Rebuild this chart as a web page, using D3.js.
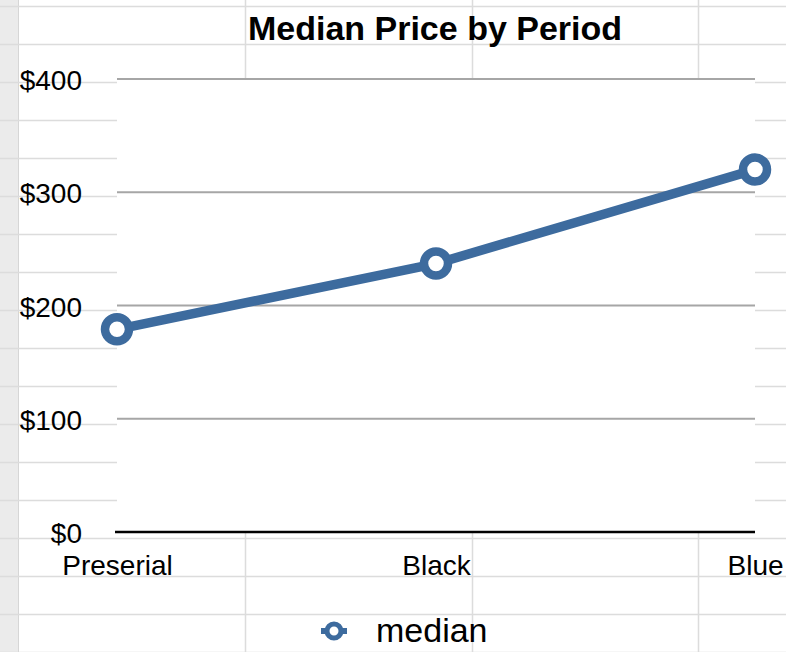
<!DOCTYPE html>
<html>
<head>
<meta charset="utf-8">
<script src="https://cdn.jsdelivr.net/npm/d3@7"></script>
<style>
  body { margin: 0; background: #fff; }
  svg { display: block; font-family: "Liberation Sans", Arial, sans-serif; }
</style>
</head>
<body>
<div id="chart"></div>
<script>
// data
var periods = ['Preserial', 'Black', 'Blue'];
var medianPrice = [179, 237, 320];
var yTicks = [0, 100, 200, 300, 400];
var seriesName = 'median';
var chartTitle = 'Median Price by Period';

var width = 786, height = 652;
var lineColor = '#3d6b9e';
var fontFam = '"Liberation Sans", Arial, sans-serif';

var svg = d3.select('#chart').append('svg')
    .attr('width', width)
    .attr('height', height);

// spreadsheet cells behind the chart
var sheet = svg.append('g').attr('class', 'sheet');
sheet.append('rect')
    .attr('x', 0).attr('y', 0)
    .attr('width', 18).attr('height', height)
    .attr('fill', '#ebebeb');
sheet.append('line')
    .attr('x1', 18.5).attr('x2', 18.5).attr('y1', 0).attr('y2', height)
    .attr('stroke', '#d6d6d6');
sheet.selectAll('line.row')
    .data(d3.range(6, height + 1, 38))
    .enter().append('line')
    .attr('class', 'row')
    .attr('x1', 0).attr('x2', width)
    .attr('y1', function(d){ return d + 0.5; })
    .attr('y2', function(d){ return d + 0.5; })
    .attr('stroke', '#dcdcdc').attr('stroke-width', 1.5);
sheet.selectAll('line.col')
    .data([245, 472, 698])
    .enter().append('line')
    .attr('class', 'col')
    .attr('x1', function(d){ return d + 0.5; })
    .attr('x2', function(d){ return d + 0.5; })
    .attr('y1', 0).attr('y2', height)
    .attr('stroke', '#dcdcdc').attr('stroke-width', 1.5);

// scales
var x = d3.scalePoint().domain(periods).range([117, 755]);
var y = d3.scaleLinear().domain([0, 400]).range([532, 79]);

// plot background
svg.append('rect')
    .attr('x', x.range()[0]).attr('y', y(400))
    .attr('width', x.range()[1] - x.range()[0])
    .attr('height', y(0) - y(400))
    .attr('fill', '#fff');

// gridlines
svg.append('g')
    .selectAll('line')
    .data(yTicks.filter(function(d){ return d > 0; }))
    .enter().append('line')
    .attr('x1', x.range()[0]).attr('x2', x.range()[1])
    .attr('y1', function(d){ return y(d); })
    .attr('y2', function(d){ return y(d); })
    .attr('stroke', '#a6a6a6').attr('stroke-width', 2);

// y axis labels
var yAxis = d3.axisLeft(y).tickValues(yTicks).tickSize(0)
    .tickFormat(function(d){ return '$' + d; });
var gy = svg.append('g')
    .attr('transform', 'translate(82,0)')
    .call(yAxis);
gy.select('.domain').remove();
gy.selectAll('text')
    .attr('x', 0)
    .attr('dy', '0.38em')
    .attr('fill', '#000')
    .style('font-size', '28px')
    .style('font-family', fontFam);

// baseline
svg.append('line')
    .attr('x1', 115).attr('x2', x.range()[1])
    .attr('y1', y(0)).attr('y2', y(0))
    .attr('stroke', '#000').attr('stroke-width', 2.5);

// x axis labels
var xAxis = d3.axisBottom(x).tickSize(0);
var gx = svg.append('g')
    .attr('transform', 'translate(0,' + y(0) + ')')
    .call(xAxis);
gx.select('.domain').remove();
gx.selectAll('text')
    .attr('y', 43)
    .attr('dy', 0)
    .attr('fill', '#000')
    .style('font-size', '28px')
    .style('font-family', fontFam);

// line
var lineFunc = d3.line()
    .x(function(d, i){ return x(periods[i]); })
    .y(function(d){ return y(d); });

svg.append('path')
    .datum(medianPrice)
    .attr('d', lineFunc)
    .attr('fill', 'none')
    .attr('stroke', lineColor)
    .attr('stroke-width', 9.5)
    .attr('stroke-linejoin', 'round');

svg.selectAll('circle.pt')
    .data(medianPrice)
    .enter().append('circle')
    .attr('class', 'pt')
    .attr('cx', function(d, i){ return x(periods[i]); })
    .attr('cy', function(d){ return y(d); })
    .attr('r', 12)
    .attr('fill', '#fff')
    .attr('stroke', lineColor)
    .attr('stroke-width', 8.5);

// title
svg.append('text')
    .attr('x', 435).attr('y', 40)
    .attr('text-anchor', 'middle')
    .style('font-size', '34px')
    .style('font-weight', 'bold')
    .text(chartTitle);

// legend
var legend = svg.append('g').attr('transform', 'translate(334,631)');
legend.append('line')
    .attr('x1', -13).attr('x2', 13)
    .attr('stroke', lineColor).attr('stroke-width', 6);
legend.append('circle')
    .attr('r', 7)
    .attr('fill', '#fff')
    .attr('stroke', lineColor)
    .attr('stroke-width', 5);
legend.append('text')
    .attr('x', 42).attr('y', 11)
    .style('font-size', '34px')
    .text(seriesName);
</script>
</body>
</html>
